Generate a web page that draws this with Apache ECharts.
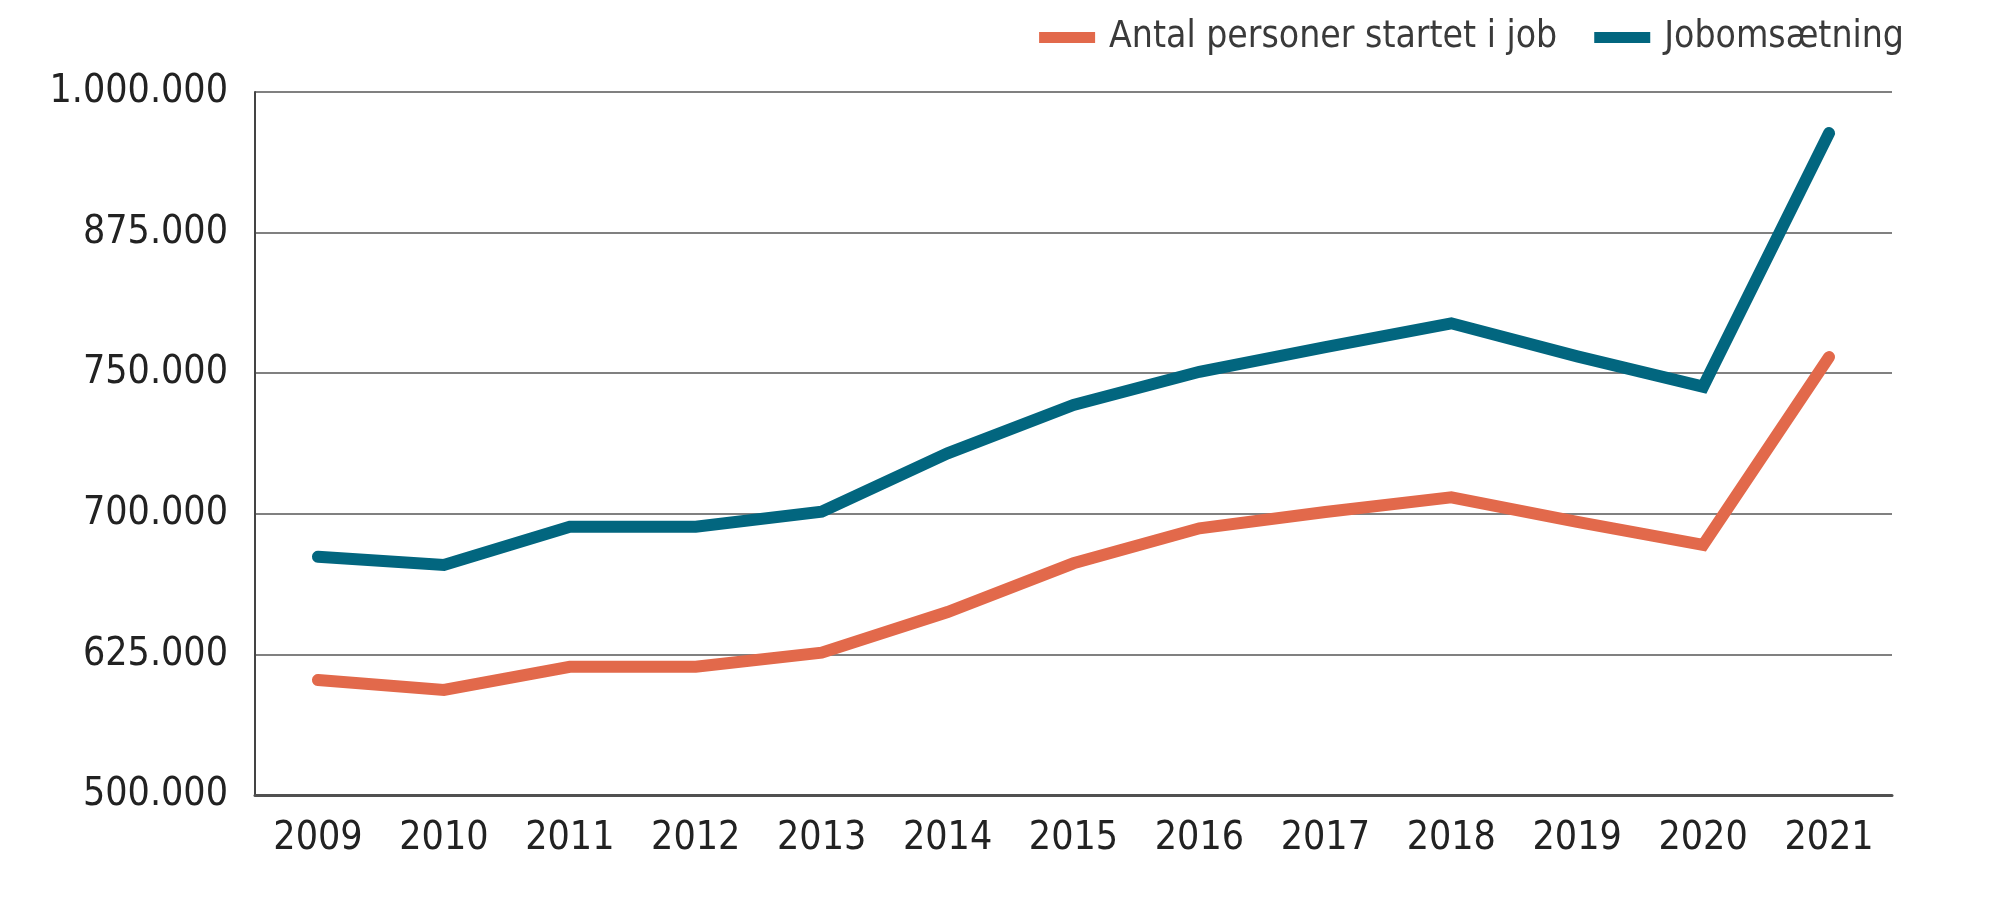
<!DOCTYPE html>
<html>
<head>
<meta charset="utf-8">
<script src="https://cdn.jsdelivr.net/npm/echarts@6/dist/echarts.min.js"></script>
<style>
html,body{margin:0;padding:0;background:#fff;}
#chart{width:2000px;height:921px;}
</style>
</head>
<body>
<div id="chart"></div>
<script>
const years = ['2009','2010','2011','2012','2013','2014','2015','2016','2017','2018','2019','2020','2021'];
const startetIJob = [581800, 574700, 591200, 591200, 601200, 630100, 664800, 689700, 701300, 711700, 694200, 677800, 811500];
const jobomsaetning = [669500, 663600, 690800, 690800, 701500, 743000, 777400, 801000, 818600, 835500, 812000, 790400, 970800];
const yTickValues = [500000, 600000, 700000, 800000, 900000, 1000000];
const yTickLabels = ['500.000', '625.000', '700.000', '750.000', '875.000', '1.000.000'];
const seriesNames = ['Antal personer startet i job', 'Jobomsætning'];
const colors = ['#E2694B', '#02667F'];

const FONT = '"DejaVu Sans Condensed", "Liberation Sans Narrow", Roboto, sans-serif';
const chart = echarts.init(document.getElementById('chart'), null, {renderer: 'canvas'});
chart.setOption({
  backgroundColor: '#ffffff',
  animation: false,
  color: colors,
  legend: {
    right: 91,
    top: 14,
    itemWidth: 56,
    itemHeight: 11,
    itemGap: 37,
    textStyle: {fontFamily: FONT, fontSize: 37, color: '#3a3a3a', padding: [0, 0, 0, 9]},
    data: seriesNames.map(n => ({name: n, icon: 'rect'}))
  },
  grid: {left: 255, right: 108, top: 92, bottom: 126, containLabel: false},
  xAxis: {
    type: 'category',
    data: years,
    boundaryGap: true,
    axisLine: {show: true, lineStyle: {color: '#505050', width: 3}},
    axisTick: {show: false},
    axisLabel: {fontFamily: FONT, fontSize: 39, color: '#222', margin: 24, interval: 0},
    splitLine: {show: false}
  },
  yAxis: {
    type: 'value',
    min: yTickValues[0],
    max: yTickValues[yTickValues.length - 1],
    interval: 100000,
    axisLine: {show: true, lineStyle: {color: '#444', width: 2}},
    axisTick: {show: false},
    axisLabel: {
      fontFamily: FONT, fontSize: 39, color: '#222', margin: 27,
      formatter: v => {
        const i = yTickValues.indexOf(v);
        return i >= 0 ? yTickLabels[i] : '';
      }
    },
    splitLine: {show: true, lineStyle: {color: '#808080', width: 2}}
  },
  series: [
    {
      name: seriesNames[0], type: 'line', data: startetIJob,
      symbol: 'none', lineStyle: {width: 12, color: colors[0], cap: 'round', join: 'miter'},
      itemStyle: {color: colors[0]}
    },
    {
      name: seriesNames[1], type: 'line', data: jobomsaetning,
      symbol: 'none', lineStyle: {width: 12, color: colors[1], cap: 'round', join: 'miter'},
      itemStyle: {color: colors[1]}
    }
  ]
});
</script>
</body>
</html>
